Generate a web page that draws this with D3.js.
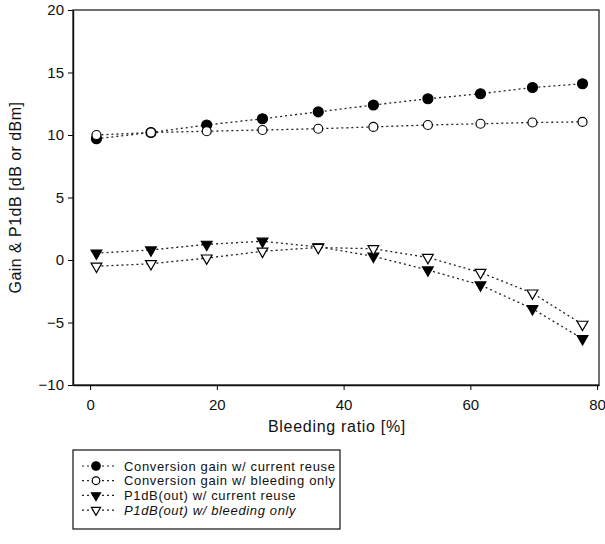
<!DOCTYPE html>
<html>
<head>
<meta charset="utf-8">
<script src="https://cdn.jsdelivr.net/npm/d3@7"></script>
<style>
  body { margin: 0; background: #fff; }
  text { font-family: "Liberation Sans", Arial, sans-serif; fill: #111; }
</style>
</head>
<body>
<svg id="chart" width="605" height="544"></svg>
<script>
// bleeding ratio [%]
const ratio = [1, 9.6, 18.4, 27.2, 36, 44.7, 53.3, 61.6, 69.8, 77.7];
const gainReuse = [9.7, 10.2, 10.8, 11.3, 11.85, 12.4, 12.9, 13.3, 13.8, 14.1];
const gainBleed = [10.0, 10.2, 10.3, 10.4, 10.5, 10.65, 10.8, 10.9, 11.0, 11.05];
const p1dbReuse = [0.55, 0.8, 1.25, 1.5, 1.05, 0.3, -0.8, -2.0, -3.9, -6.3];
const p1dbBleed = [-0.5, -0.3, 0.15, 0.7, 1.0, 0.9, 0.2, -1.0, -2.65, -5.15];

const xTicks = [0, 20, 40, 60, 80];
const yTicks = [-10, -5, 0, 5, 10, 15, 20];

const seriesNames = [
  "Conversion gain w/ current reuse",
  "Conversion gain w/ bleeding only",
  "P1dB(out) w/ current reuse",
  "P1dB(out) w/ bleeding only"
];

const svg = d3.select("#chart");
const plot = { left: 73, right: 599, top: 10, bottom: 385 };

const x = d3.scaleLinear().domain([-2.7, 80.3]).range([plot.left, plot.right]);
const y = d3.scaleLinear().domain([-10, 20]).range([plot.bottom, plot.top]);

// filled first so open markers sit on top
const series = [
  { name: seriesNames[0], values: gainReuse, shape: "circle", filled: true },
  { name: seriesNames[2], values: p1dbReuse, shape: "triangle", filled: true },
  { name: seriesNames[1], values: gainBleed, shape: "circle", filled: false },
  { name: seriesNames[3], values: p1dbBleed, shape: "triangle", filled: false }
];

// axes
svg.append("g")
  .attr("transform", `translate(${plot.left},0)`)
  .call(d3.axisLeft(y).tickValues(yTicks).tickSize(5).tickSizeOuter(0).tickPadding(4))
  .call(g => g.selectAll("text").style("font-size", "15px").attr("font-family", null))
  .call(g => g.select(".domain").attr("stroke", "#111").attr("stroke-width", 1.4));

svg.append("g")
  .attr("transform", `translate(0,${plot.bottom})`)
  .call(d3.axisBottom(x).tickValues(xTicks).tickSize(5).tickSizeOuter(0).tickPadding(9))
  .call(g => g.selectAll("text").style("font-size", "15px").attr("font-family", null))
  .call(g => g.select(".domain").attr("stroke", "#111").attr("stroke-width", 1.4));

// frame
svg.append("rect")
  .attr("x", plot.left).attr("y", plot.top)
  .attr("width", plot.right - plot.left).attr("height", plot.bottom - plot.top)
  .attr("fill", "none").attr("stroke", "#111").attr("stroke-width", 1.2);

// axis titles
svg.append("text")
  .attr("transform", `translate(21,${(plot.top + plot.bottom) / 2}) rotate(-90)`)
  .attr("text-anchor", "middle")
  .style("font-size", "16px")
  .style("letter-spacing", "0.45px")
  .text("Gain & P1dB  [dB or dBm]");

svg.append("text")
  .attr("x", (plot.left + plot.right) / 2 + 1)
  .attr("y", 432)
  .attr("text-anchor", "middle")
  .style("font-size", "16px")
  .style("letter-spacing", "0.7px")
  .text("Bleeding ratio  [%]");

// lines
const line = d3.line()
  .x((d, i) => x(ratio[i]))
  .y(d => y(d));

series.forEach(s => {
  svg.append("path")
    .datum(s.values)
    .attr("d", line)
    .attr("fill", "none")
    .attr("stroke", "#222")
    .attr("stroke-width", 1.3)
    .attr("stroke-dasharray", "2,3");
});

function drawMarker(g, s, cx, cy, scale) {
  if (s.shape === "circle") {
    g.append("circle")
      .attr("cx", cx).attr("cy", cy)
      .attr("r", (s.filled ? 5 : 4.5) * scale)
      .attr("fill", s.filled ? "#000" : "#fff")
      .attr("stroke", "#000").attr("stroke-width", 1.2);
  } else {
    g.append("path")
      .attr("d", d3.symbol(d3.symbolTriangle, 50 * scale * scale)())
      .attr("transform", `translate(${cx},${cy}) rotate(180)`)
      .attr("fill", s.filled ? "#000" : "#fff")
      .attr("stroke", "#000").attr("stroke-width", 1.2);
  }
}

// markers
series.forEach(s => {
  const g = svg.append("g");
  s.values.forEach((v, i) => drawMarker(g, s, x(ratio[i]), y(v), 1));
});

// legend
const legend = svg.append("g");
legend.append("rect")
  .attr("x", 73).attr("y", 450).attr("width", 267).attr("height", 79)
  .attr("fill", "#fff").attr("stroke", "#111").attr("stroke-width", 1.2);

const legendOrder = [series[0], series[2], series[1], series[3]];
legendOrder.forEach((s, i) => {
  const ly = 466 + i * 14.7;
  legend.append("line")
    .attr("x1", 82).attr("x2", 116).attr("y1", ly).attr("y2", ly)
    .attr("stroke", "#222").attr("stroke-width", 1.2)
    .attr("stroke-dasharray", "2,3");
  drawMarker(legend, s, 96, ly, 0.85);
  legend.append("text")
    .attr("x", 124).attr("y", ly + 4.5)
    .style("font-size", "13px")
    .style("letter-spacing", "0.65px")
    .style("font-style", s.shape === "triangle" && !s.filled ? "italic" : null)
    .text(s.name);
});
</script>
</body>
</html>
